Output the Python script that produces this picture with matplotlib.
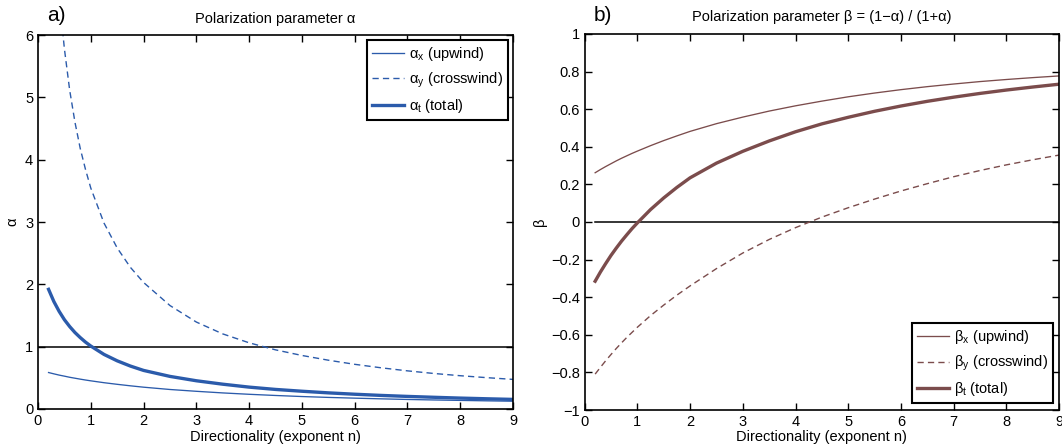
import matplotlib
matplotlib.use('Agg')
import matplotlib.pyplot as plt
from matplotlib.ticker import FuncFormatter, MultipleLocator

plt.rcParams['font.family'] = ['Liberation Sans', 'DejaVu Sans']
plt.rcParams['mathtext.fontset'] = 'custom'
plt.rcParams['mathtext.rm'] = 'Liberation Sans'
plt.rcParams['mathtext.it'] = 'Liberation Sans:italic'
plt.rcParams['mathtext.bf'] = 'Liberation Sans:bold'
plt.rcParams['axes.unicode_minus'] = True

# ---- data ----
n = [0.2, 0.3, 0.4, 0.5, 0.6, 0.7, 0.8, 0.9, 1.0, 1.25, 1.5, 1.75, 2.0, 2.5,
     3.0, 3.5, 4.0, 4.5, 5.0, 5.5, 6.0, 6.5, 7.0, 7.5, 8.0, 8.5, 9.0]

alpha_x = [0.585, 0.564, 0.544, 0.527, 0.509, 0.494, 0.479, 0.465, 0.452, 0.422,
           0.396, 0.372, 0.350, 0.313, 0.284, 0.258, 0.236, 0.217, 0.200, 0.186,
           0.174, 0.163, 0.153, 0.145, 0.138, 0.131, 0.125]
alpha_y = [9.471, 7.811, 6.634, 5.780, 5.116, 4.602, 4.181, 3.843, 3.545, 2.984,
           2.584, 2.273, 2.030, 1.660, 1.395, 1.205, 1.062, 0.949, 0.859, 0.783,
           0.717, 0.661, 0.612, 0.570, 0.534, 0.503, 0.475]
alpha_t = [1.920, 1.725, 1.567, 1.433, 1.323, 1.227, 1.146, 1.073, 1.010, 0.876,
           0.773, 0.689, 0.619, 0.523, 0.453, 0.398, 0.351, 0.314, 0.285, 0.259,
           0.237, 0.218, 0.202, 0.188, 0.175, 0.164, 0.154]

beta_x = [0.262, 0.279, 0.295, 0.310, 0.325, 0.339, 0.352, 0.365, 0.377, 0.406,
          0.433, 0.458, 0.482, 0.523, 0.558, 0.590, 0.618, 0.643, 0.666, 0.686,
          0.704, 0.720, 0.734, 0.747, 0.758, 0.768, 0.777]
beta_y = [-0.809, -0.773, -0.738, -0.705, -0.673, -0.643, -0.614, -0.587, -0.560,
          -0.498, -0.442, -0.389, -0.340, -0.248, -0.165, -0.093, -0.030, 0.026,
          0.076, 0.122, 0.165, 0.204, 0.241, 0.274, 0.304, 0.331, 0.356]
beta_t = [-0.315, -0.266, -0.221, -0.178, -0.139, -0.102, -0.068, -0.035, -0.005,
          0.066, 0.128, 0.184, 0.235, 0.313, 0.376, 0.431, 0.480, 0.522, 0.557,
          0.589, 0.617, 0.642, 0.664, 0.684, 0.702, 0.718, 0.733]

alpha_labels = [r'$\mathregular{\alpha_x}$ (upwind)',
                r'$\mathregular{\alpha_y}$ (crosswind)',
                r'$\mathregular{\alpha_t}$ (total)']
beta_labels = [r'$\mathregular{\beta_x}$ (upwind)',
               r'$\mathregular{\beta_y}$ (crosswind)',
               r'$\mathregular{\beta_t}$ (total)']

blue = '#2b5bab'
brown = '#7b4c4c'
FS = 10.5

W, H = 1062, 447
fig = plt.figure(figsize=(W / 100, H / 100), dpi=100)
ax1 = fig.add_axes([38 / W, 38 / H, 475 / W, 374 / H])
ax2 = fig.add_axes([584.6 / W, 37 / H, 474.6 / W, 376 / H])

thin, thick, dashw = 0.95, 2.4, 1.0
dash = (0, (4.5, 3.0))

# ---- panel a ----
ax1.axhline(1, color='black', lw=1.1, zorder=1)
ax1.plot(n, alpha_x, color=blue, lw=thin, label=alpha_labels[0])
ax1.plot(n, alpha_y, color=blue, lw=dashw, ls=dash, label=alpha_labels[1])
ax1.plot(n, alpha_t, color=blue, lw=thick, label=alpha_labels[2])
ax1.set_xlim(0, 9)
ax1.set_ylim(0, 6)
ax1.xaxis.set_major_locator(MultipleLocator(1))
ax1.yaxis.set_major_locator(MultipleLocator(1))
ax1.set_title('Polarization parameter α', fontsize=FS, pad=9)
ax1.set_ylabel('α', fontsize=FS)
ax1.set_xlabel('Directionality (exponent n)', fontsize=FS)
ax1.yaxis.set_label_coords(-(38 - 19) / 475, 0.5)
ax1.xaxis.set_label_coords(0.5, -(430 - 409) / 374)

# ---- panel b ----
ax2.plot([n[0], n[-1]], [0, 0], color='black', lw=1.1, zorder=1)
ax2.plot(n, beta_x, color=brown, lw=thin, label=beta_labels[0])
ax2.plot(n, beta_y, color=brown, lw=dashw, ls=dash, label=beta_labels[1])
ax2.plot(n, beta_t, color=brown, lw=thick, label=beta_labels[2])
ax2.set_xlim(0, 9)
ax2.set_ylim(-1, 1)
ax2.xaxis.set_major_locator(MultipleLocator(1))
ax2.yaxis.set_major_locator(MultipleLocator(0.2))
ax2.yaxis.set_major_formatter(FuncFormatter(
    lambda v, p: ('%g' % round(v, 1)).replace('-', '\u2212') if abs(v) > 1e-9 else '0'))
ax2.set_title('Polarization parameter β = (1\u2212α) / (1+α)', fontsize=FS, pad=9)
ax2.set_ylabel('β', fontsize=FS)
ax2.set_xlabel('Directionality (exponent n)', fontsize=FS)
ax2.yaxis.set_label_coords(-(584.6 - 547) / 474.6, 0.5)
ax2.xaxis.set_label_coords(0.5, -(430 - 410) / 376)

for ax in (ax1, ax2):
    ax.tick_params(direction='in', top=True, right=True, length=5, width=1.0,
                   labelsize=FS, pad=3.5)
    for s in ax.spines.values():
        s.set_linewidth(1.2)

leg_kw = dict(fontsize=FS, frameon=True, fancybox=False, framealpha=1,
              edgecolor='black', handlelength=2.2, handletextpad=0.3,
              labelspacing=0.5, borderpad=0.35)
leg1 = ax1.legend(loc='upper right', borderaxespad=0.35, **leg_kw)
leg1.get_frame().set_linewidth(1.5)
leg2 = ax2.legend(loc='lower right', borderaxespad=0.45, **leg_kw)
leg2.get_frame().set_linewidth(1.5)

fig.text(47 / W, 1 - 21 / H, 'a)', fontsize=15, va='baseline', ha='left')
fig.text(594 / W, 1 - 21 / H, 'b)', fontsize=15, va='baseline', ha='left')

fig.savefig('out.png', dpi=100)
